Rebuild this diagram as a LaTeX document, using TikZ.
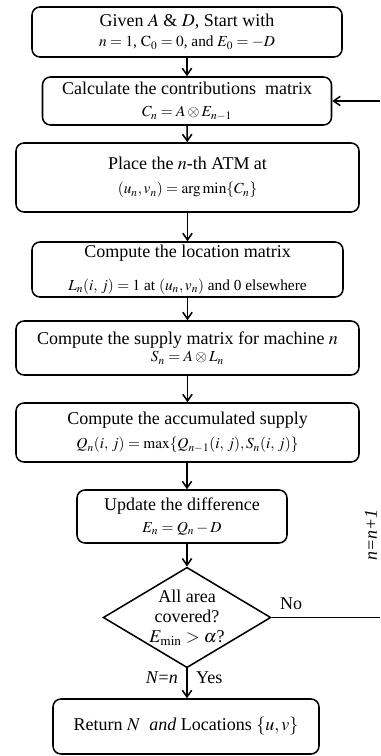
\documentclass[tikz,border=0pt]{standalone}
\usepackage{mathptmx}
\usepackage{amsmath}
\usepackage[no-math]{fontspec}
\setmainfont{Liberation Serif}
\usetikzlibrary{shapes.geometric,arrows.meta,calc}
\newcommand{\eqrow}[1]{{\fontsize{11.5}{13}\selectfont #1}}

\begin{document}
\begin{tikzpicture}[x=0.75pt, y=-0.75pt, font=\fontsize{13.5}{15}\selectfont,
    stepbox/.style={draw, line width=1.15pt, rounded corners=6pt, align=center, inner sep=0pt},
    decision/.style={diamond, draw, line width=1.15pt, aspect=1.67, inner sep=0pt, align=center},
    flow/.style={-{Straight Barb[length=5pt, width=7pt]}, line width=1.15pt}]

%%% ---------- MARCO ----------
\useasboundingbox (0,0) rectangle (380,756);

%%% ---------- CAJAS ----------
\node[stepbox, minimum width=310*0.75pt, minimum height=50*0.75pt] (init) at (187,32)
    {Given $A$ \& $D$, Start with\\[0pt]
     \eqrow{$n=1$, $\mathrm{C}_0=0$, and $E_0=-D$}};

\node[stepbox, minimum width=289*0.75pt, minimum height=48*0.75pt] (contrib) at (187,101)
    {Calculate the contributions\ \ matrix\\[2pt]
     \eqrow{$C_n=A\otimes E_{n-1}$}};

\node[stepbox, minimum width=343*0.75pt, minimum height=69*0.75pt] (place) at (187.5,177.5)
    {Place the $n$-th ATM at\\[3pt]
     \eqrow{$(u_n,v_n)=\arg\min\{C_n\}$}};

\node[stepbox, minimum width=311*0.75pt, minimum height=55*0.75pt] (locate) at (187.5,269.5)
    {Compute the location matrix\\[10pt]
     \eqrow{$L_n(i,\,j)=1$ at $(u_n,v_n)$ and 0 elsewhere}};

\node[stepbox, minimum width=343*0.75pt, minimum height=54*0.75pt] (supply) at (187.5,348)
    {Compute the supply matrix for machine $n$\\[-2pt]
     \eqrow{$S_n=A\otimes L_n$}};

\node[stepbox, minimum width=343*0.75pt, minimum height=59*0.75pt] (accum) at (187.5,432.5)
    {Compute the accumulated supply\\[3pt]
     \eqrow{$Q_n(i,\,j)=\max\{Q_{n-1}(i,\,j),S_n(i,\,j)\}$}};

\node[stepbox, minimum width=210*0.75pt, minimum height=53*0.75pt] (update) at (182,516.5)
    {Update the difference\\[1pt]
     \eqrow{$E_n=Q_n-D$}};

% Decision
\node[decision, minimum width=165*0.75pt, minimum height=99*0.75pt] (check) at (187,617.5)
    {All area\\covered?\\$E_{\min}>\alpha$?};

\node[stepbox, minimum width=266*0.75pt, minimum height=55*0.75pt] (result) at (186,726.5)
    {Return $N$ \ \textit{and} Locations $\{u,v\}$};

%%% ---------- FLECHAS ----------
\draw[flow] (init) -- (contrib);
\draw[flow] (contrib) -- (place);
\draw[flow] (place) -- (locate);
\draw[flow] (locate) -- (supply);
\draw[flow] (supply) -- (accum);
\draw[flow] (accum.south -| check.north) -- (update.north -| check.north);
\draw[flow] (update.south -| check.north) -- (check.north);
\draw[flow] (check.south) -- (result.north -| check.south)
    node[pos=0.3, left=3pt] {\textit{N}=\textit{n}}
    node[pos=0.3, right=3pt] {Yes};

% Lazo de retorno
\coordinate (noexit) at (380,617.5);
\coordinate (loopin) at (380,101);
\draw[line width=1.15pt] (check.east) -- (noexit)
    node[pos=0.18, above=2pt] {No};
\draw[flow] (loopin) -- (contrib.east);
\node[rotate=90] (incr) at (371,535) {\textit{n=n+1}};

\end{tikzpicture}
\end{document}
